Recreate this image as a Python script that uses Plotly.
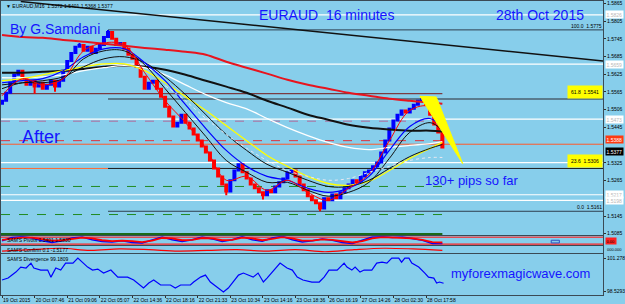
import plotly.graph_objects as go
import numpy as np

# ---------------- DATA ----------------
close = [1.5535, 1.5562, 1.5596, 1.5623, 1.5637, 1.5610, 1.5589, 1.5603, 1.5583, 1.5596,
         1.5576, 1.5589, 1.5603, 1.5583, 1.5603, 1.5637, 1.5670, 1.5697, 1.5718, 1.5724,
         1.5704, 1.5718, 1.5697, 1.5711, 1.5724, 1.5751, 1.5768, 1.5745, 1.5724, 1.5731,
         1.5711, 1.5691, 1.5677, 1.5650, 1.5616, 1.5576, 1.5596, 1.5603, 1.5576, 1.5549,
         1.5515, 1.5482, 1.5448, 1.5461, 1.5488, 1.5461, 1.5441, 1.5421, 1.5401, 1.5380,
         1.5360, 1.5333, 1.5306, 1.5279, 1.5252, 1.5228, 1.5266, 1.5299, 1.5320, 1.5293,
         1.5272, 1.5252, 1.5239, 1.5225, 1.5215, 1.5232, 1.5225, 1.5245, 1.5259, 1.5272,
         1.5293, 1.5299, 1.5279, 1.5252, 1.5232, 1.5212, 1.5198, 1.5188, 1.5170, 1.5205,
         1.5198, 1.5218, 1.5205, 1.5225, 1.5239, 1.5252, 1.5266, 1.5259, 1.5279, 1.5293,
         1.5299, 1.5313, 1.5326, 1.5360, 1.5401, 1.5441, 1.5468, 1.5488, 1.5502, 1.5495,
         1.5508, 1.5522, 1.5535, 1.5542, 1.5522, 1.5488, 1.5455, 1.5428, 1.5377]
first_open = 1.5525
extra_high = {19: 1.5731, 26: 1.5775, 103: 1.5548}
extra_low = {8: 1.5559, 13: 1.5566, 55: 1.5215, 64: 1.5201, 78: 1.5161}

ma_bars = [0, 5, 10, 15, 20, 25, 30, 35, 40, 45, 50, 55, 60, 65, 70, 75, 80, 85, 90, 95, 100, 105, 108]
ma_slow_red = [1.5758, 1.5751, 1.5748, 1.5741, 1.5735, 1.5728, 1.5721, 1.5714, 1.5708, 1.5701, 1.5691, 1.5667,
               1.5647, 1.5627, 1.5606, 1.5589, 1.5576, 1.5562, 1.5552, 1.5542, 1.5535, 1.5529, 1.5525]
ma_black_thick = [1.5630, 1.5630, 1.5633, 1.5637, 1.5643, 1.5650, 1.5654, 1.5650, 1.5640, 1.5623, 1.5603, 1.5583,
                  1.5562, 1.5535, 1.5512, 1.5488, 1.5471, 1.5454, 1.5444, 1.5438, 1.5434, 1.5434, 1.5431]
ma_white = [1.5613, 1.5613, 1.5616, 1.5623, 1.5637, 1.5647, 1.5654, 1.5647, 1.5623, 1.5589, 1.5556, 1.5529,
            1.5508, 1.5475, 1.5444, 1.5417, 1.5394, 1.5377, 1.5370, 1.5377, 1.5384, 1.5390, 1.5397]
ma_yellow = [1.5603, 1.5610, 1.5623, 1.5637, 1.5650, 1.5660, 1.5660, 1.5637, 1.5596, 1.5549, 1.5502, 1.5451,
             1.5400, 1.5350, 1.5313, 1.5279, 1.5255, 1.5249, 1.5262, 1.5299, 1.5340, 1.5374, 1.5394]
ma_blue = [1.5596, 1.5603, 1.5610, 1.5637, 1.5684, 1.5711, 1.5711, 1.5664, 1.5603, 1.5522, 1.5441, 1.5367,
           1.5313, 1.5279, 1.5266, 1.5239, 1.5225, 1.5239, 1.5279, 1.5367, 1.5448, 1.5475, 1.5441]
ma_fast_red = [1.5552, 1.5610, 1.5589, 1.5610, 1.5704, 1.5731, 1.5724, 1.5630, 1.5535, 1.5461, 1.5374, 1.5266,
               1.5279, 1.5232, 1.5266, 1.5225, 1.5198, 1.5239, 1.5286, 1.5400, 1.5502, 1.5515, 1.5441]
ma_black_1 = [1.5576, 1.5596, 1.5596, 1.5610, 1.5677, 1.5704, 1.5704, 1.5657, 1.5576, 1.5495, 1.5414, 1.5333,
              1.5293, 1.5259, 1.5259, 1.5232, 1.5212, 1.5225, 1.5259, 1.5340, 1.5428, 1.5461, 1.5434]
ma_black_2 = [1.5589, 1.5596, 1.5603, 1.5616, 1.5650, 1.5677, 1.5684, 1.5664, 1.5616, 1.5556, 1.5488, 1.5421,
              1.5367, 1.5320, 1.5293, 1.5266, 1.5245, 1.5245, 1.5266, 1.5306, 1.5346, 1.5374, 1.5387]
dot_bars = [40, 45, 50, 55, 60, 65, 70, 75, 80, 85, 90, 95, 100, 105, 108]
ma_dotted = [1.5586, 1.5535, 1.5475, 1.5421, 1.5374, 1.5333, 1.5299, 1.5279, 1.5266, 1.5272, 1.5293, 1.5313,
             1.5333, 1.5343, 1.5343]

trend_bars = [4.6, 147.4]
trend_prices = [1.5871, 1.5670]
wedge_bars = [102.5, 106.5, 113.0, 102.5]
wedge_prices = [1.5550, 1.5548, 1.5322, 1.5550]

# horizontal levels: price, start bar (None = chart edge), end bar (None = chart edge)
level_prices = [1.5826, 1.5659, 1.5473, 1.5388, 1.5326, 1.5217, 1.5198,
                1.5559, 1.5466, 1.5400, 1.5245, 1.5150, 1.5083, 1.5306,
                1.5775, 1.5541, 1.5306, 1.5161]
level_start = [None, None, None, None, None, None, None,
               None, None, None, None, None, None, None,
               26, 26, 26, 26]
level_end = [None, None, None, None, None, None, None,
             108, 108, 108, 108, 108, 108, 26,
             None, None, None, None]
level_styles = [('white', 'solid', 1.2), ('white', 'solid', 1.2), ('white', 'solid', 1.2), ('#ff5a2a', 'solid', 1),
                ('white', 'solid', 1.2), ('white', 'solid', 1.2), ('white', 'solid', 1.2),
                ('#7a1a1a', 'solid', 1), ('#b06a9a', 'dash', 1), ('#e0303a', 'dash', 1), ('#228b22', 'dash', 1),
                ('#228b22', 'dash', 1), ('#1a6a1a', 'solid', 2.5), ('#ff6a30', 'solid', 1),
                ('#2f3f4f', 'solid', 1), ('#4a6070', 'solid', 1.5), ('#1a1a1a', 'solid', 1), ('#2f3f4f', 'solid', 1)]

price_ticks = [1.5085, 1.5145, 1.5265, 1.5325, 1.5445, 1.5505, 1.5565, 1.5625, 1.5685, 1.5745, 1.5805, 1.5865]
price_tick_text = ['1.5085', '1.5145', '1.5265', '1.5325', '1.5445', '1.5506', '1.5565', '1.5625', '1.5685',
                   '1.5745', '1.5805', '1.5865']
box_prices = [1.5826, 1.5659, 1.5473, 1.5217, 1.5198, 1.5388, 1.5377]

fib_prices = [1.5775, 1.5541, 1.5306, 1.5161]
fib_labels = ['100.0  1.5775', '61.8  1.5541', '23.6  1.5306', '0.0  1.5161']

time_bars = [0, 8, 16, 24, 32, 40, 48, 56, 64, 72, 80, 88, 96, 104]
time_labels = ['19 Oct 2015', '20 Oct 07:46', '21 Oct 09:06', '22 Oct 05:07', '22 Oct 14:36', '22 Oct 18:16',
               '22 Oct 21:33', '23 Oct 10:34', '23 Oct 14:16', '23 Oct 18:36', '26 Oct 16:19', '27 Oct 14:26',
               '28 Oct 02:30', '28 Oct 17:58']

pivot_blue = [0.5, 0.85, 0.95, 0.8, 0.5, 0.3, 0.5, 0.8, 0.9, 0.6, 0.4, 0.35, 0.5, 0.3, 0.25, 0.6, 0.9, 0.6,
              0.4, 0.6, 0.9, 0.7, 0.4, 0.6, 0.95, 0.6, 0.45, 0.8, 1.0, 0.6, 0.35, 0.5, 0.7, 0.55, 0.3, 0.2,
              0.55, 0.9, 0.95, 0.85, 0.9, 0.7, 0.55, 0.2, 0.2]
pivot_red = [0.6, 0.7, 0.85, 0.85, 0.7, 0.5, 0.55, 0.7, 0.85, 0.75, 0.55, 0.45, 0.5, 0.45, 0.35, 0.5, 0.8,
             0.75, 0.55, 0.6, 0.8, 0.75, 0.55, 0.6, 0.85, 0.75, 0.55, 0.7, 0.9, 0.75, 0.5, 0.5, 0.65, 0.6,
             0.45, 0.3, 0.45, 0.75, 0.9, 0.85, 0.85, 0.75, 0.6, 0.35, 0.3]
pivot_levels = [0.89, 0.11]
confirm_red = [0.3, 0.5, 0.7, 0.4, 0.6, 0.5, 0.3, 0.4, 0.5, 0.3, 0.5, 0.2, 0.5, 0.7, 0.6, 0.4]

div_bars = [0, 1.5, 3.4, 4.6, 5.9, 7.1, 7.8, 9.5, 11.2, 12, 13.2, 14.4, 15.6, 17.4, 18.6, 19.8, 21, 22.2,
            23.5, 24.9, 26.7, 28.4, 30.8, 32.3, 34, 34.7, 36, 37.2, 38.9, 41.3, 42.5, 43.8, 46.2, 47,
            48.7, 49.9, 51.1, 52.8, 54.3, 55.5, 56.7, 58, 59.2, 60.4, 61.6, 62.8, 64.1, 65, 66.3, 68.2,
            69.9, 71.2, 72.4, 73.8, 76, 77.8, 79, 80.2, 82.2, 83.9, 84.6, 85.8, 86.6, 87.8, 88.8, 90.7,
            91.9, 93.2, 94.4, 95.6, 97.3, 98, 98.8, 99.8, 100.5, 102.2, 103.7, 104.6, 105.9, 106.6,
            107.3, 108.3]
div_vals = [99.45, 99.61, 100.11, 100.53, 100.45, 100.86, 100.45, 100.28, 100.28, 99.69, 100.45, 100.28,
            100.86, 100.86, 101.28, 100.94, 100.53, 100.28, 100.36, 100.03, 100.28, 99.69, 99.69, 99.45,
            99.03, 98.78, 99.20, 99.45, 99.03, 99.03, 98.78, 99.03, 99.03, 99.28, 99.69, 99.86, 99.28,
            98.86, 98.44, 98.78, 99.28, 99.86, 100.03, 99.86, 99.69, 100.03, 99.28, 99.61, 100.11,
            100.86, 100.45, 100.28, 99.69, 99.45, 99.28, 99.28, 99.69, 100.28, 100.28, 100.86, 100.53,
            100.28, 100.53, 100.11, 100.28, 100.28, 100.86, 100.94, 100.86, 101.28, 101.28, 100.94,
            101.28, 101.28, 100.86, 100.53, 100.03, 99.69, 99.61, 99.20, 99.28, 99.18]
div_ticks = [101.278, 98.5293]

# ---------------- FIGURE ----------------
BG = '#87CEEB'
TXT_BLUE = '#1515ff'
XR = [-0.25, 147.4]
PH = 295.0  # plot-area height in px
PW = 604.0


def py(p):  # pixel row -> paper y
    return (PH - p) / PH


def px(p):
    return p / PW


n = len(close)
bars = list(range(n))
opens = [first_open] + close[:-1]
highs = [max(o, c) for o, c in zip(opens, close)]
lows = [min(o, c) for o, c in zip(opens, close)]
for k, v in extra_high.items():
    highs[k] = v
for k, v in extra_low.items():
    lows[k] = v

fig = go.Figure()

# levels
for price, x0, x1, (col, dash, w) in zip(level_prices, level_start, level_end, level_styles):
    if x0 is None and x1 is None:
        fig.add_shape(type='line', xref='x domain', yref='y', x0=0, x1=1, y0=price, y1=price,
                      line=dict(color=col, dash=dash, width=w), layer='below')
    else:
        fig.add_shape(type='line', xref='x', yref='y', x0=XR[0] if x0 is None else x0,
                      x1=XR[1] if x1 is None else x1, y0=price, y1=price,
                      line=dict(color=col, dash=dash, width=w), layer='below')

fig.add_trace(go.Scatter(x=trend_bars, y=trend_prices, mode='lines', line=dict(color='#111111', width=1.5),
                         xaxis='x', yaxis='y', hoverinfo='skip'))

fig.add_trace(go.Candlestick(x=bars, open=opens, high=highs, low=lows, close=close,
                             increasing=dict(line=dict(color='#0000ff', width=2), fillcolor='#0000ff'),
                             decreasing=dict(line=dict(color='#ff0000', width=2), fillcolor='#ff0000'),
                             whiskerwidth=0, xaxis='x', yaxis='y'))

ma_specs = [
    (ma_slow_red, '#e8141e', 2, 'solid'),
    (ma_black_thick, '#111111', 2, 'solid'),
    (ma_white, '#ffffff', 1.3, 'solid'),
    (ma_yellow, '#ffff00', 1.3, 'solid'),
    (ma_black_2, '#111111', 1, 'solid'),
    (ma_black_1, '#111111', 1, 'solid'),
    (ma_blue, '#0000ff', 1.2, 'solid'),
    (ma_fast_red, '#ff0000', 1, 'solid'),
]
for vals, col, w, dash in ma_specs:
    fig.add_trace(go.Scatter(x=ma_bars, y=vals, mode='lines', line=dict(color=col, width=w, dash=dash, shape='spline'),
                             xaxis='x', yaxis='y', hoverinfo='skip'))
fig.add_trace(go.Scatter(x=dot_bars, y=ma_dotted, mode='lines',
                         line=dict(color='#e8e8f0', width=1, dash='dot', shape='spline'),
                         xaxis='x', yaxis='y', hoverinfo='skip'))

fig.add_trace(go.Scatter(x=wedge_bars, y=wedge_prices, mode='lines', fill='toself', fillcolor='#ffff00',
                         line=dict(color='#ffff00', width=1), xaxis='x', yaxis='y', hoverinfo='skip'))

# panel 1: pivots
osc_x = list(np.linspace(0, 108, len(pivot_blue)))
for lv in pivot_levels:
    fig.add_shape(type='line', xref='x2 domain', yref='y2', x0=0, x1=1, y0=lv, y1=lv,
                  line=dict(color='#ff2020', width=1.3), layer='below')
fig.add_trace(go.Scatter(x=osc_x, y=pivot_blue, mode='lines', line=dict(color='#0000ff', width=1.5),
                         xaxis='x2', yaxis='y2', hoverinfo='skip'))
fig.add_trace(go.Scatter(x=osc_x, y=pivot_red, mode='lines', line=dict(color='#ff0000', width=1.8),
                         xaxis='x2', yaxis='y2', hoverinfo='skip'))
fig.add_shape(type='rect', xref='x2', yref='y2', x0=134.7, x1=136.7, y0=0.25, y1=0.55,
              line=dict(color='#3050c0', width=1))

# panel 2: confirm
conf_x = list(np.linspace(0, 108, len(confirm_red)))
fig.add_trace(go.Scatter(x=conf_x, y=confirm_red, mode='lines', line=dict(color='#ff0000', width=1.2, shape='spline'),
                         xaxis='x3', yaxis='y3', hoverinfo='skip'))

# panel 3: divergence
fig.add_trace(go.Scatter(x=div_bars, y=div_vals, mode='lines', line=dict(color='#0000ff', width=1.2),
                         xaxis='x4', yaxis='y4', hoverinfo='skip'))

axis_common = dict(showgrid=False, zeroline=False, showline=True, mirror=True, linecolor='#3a4a55', linewidth=1)
xcommon = dict(axis_common, range=XR, showticklabels=False, ticks='', rangeslider=dict(visible=False))

fig.update_layout(
    width=625, height=304,
    margin=dict(l=0, r=21, t=0, b=9),
    paper_bgcolor=BG, plot_bgcolor=BG,
    showlegend=False,
    font=dict(family='Liberation Sans, Arial, sans-serif', color='#000000'),
    xaxis=dict(xcommon, anchor='y', domain=[0, 1]),
    xaxis2=dict(xcommon, anchor='y2', domain=[0, 1]),
    xaxis3=dict(xcommon, anchor='y3', domain=[0, 1]),
    xaxis4=dict(axis_common, anchor='y4', domain=[0, 1], range=XR, tickvals=time_bars, ticktext=time_labels,
                ticks='outside', ticklen=2, tickcolor='#303030', tickfont=dict(size=5, color='#000000'),
                ticklabelposition='outside right', tickangle=0),
    yaxis=dict(axis_common, anchor='x', domain=[py(235), 1.0], range=[1.50800, 1.58728], side='right',
               tickvals=price_ticks, ticktext=price_tick_text, ticks='outside', ticklen=2, tickcolor='#303030',
               tickfont=dict(size=5, color='#000000')),
    yaxis2=dict(axis_common, anchor='x2', domain=[py(245), py(236)], range=[0, 1], showticklabels=False, ticks=''),
    yaxis3=dict(axis_common, anchor='x3', domain=[py(253), py(246)], range=[0, 1], showticklabels=False, ticks=''),
    yaxis4=dict(axis_common, anchor='x4', domain=[0, py(254)], range=[98.196, 101.611], side='right',
                tickvals=div_ticks, ticktext=['101.278', '98.5293'], ticks='outside', ticklen=2,
                tickcolor='#303030', tickfont=dict(size=5, color='#000000')),
)

ann = []
# big blue texts
ann.append(dict(text='By G.Samdani', x=px(7), y=py(28), size=14))
ann.append(dict(text='EURAUD\u00a0\u00a016 minutes', x=px(257), y=py(14), size=14))
ann.append(dict(text='28th Oct 2015', x=px(495), y=py(14), size=14))
ann.append(dict(text='After', x=px(19), y=py(136), size=18))
ann.append(dict(text='130+ pips so far', x=px(423), y=py(180), size=13))
ann.append(dict(text='myforexmagicwave.com', x=px(449), y=py(273), size=13))
for a in ann:
    fig.add_annotation(text=a['text'], xref='paper', yref='paper', x=a['x'], y=a['y'], xanchor='left',
                       yanchor='middle', showarrow=False, font=dict(size=a['size'], color=TXT_BLUE))

# small header
fig.add_annotation(text='\u25bc EURAUD,M16  1.5372 1.5401 1.5368 1.5377', xref='paper', yref='paper',
                   x=px(3), y=py(5), xanchor='left', yanchor='middle', showarrow=False,
                   font=dict(size=5, color='#000000'))
# panel captions
for txt, row in [("SAM'S Pivots 1.5401 1.5830", 240), ("SAM'S Confirm 0.1 -1.5177", 249.5),
                 ("SAM'S Divergence 99.1809", 259)]:
    fig.add_annotation(text=txt, xref='paper', yref='paper', x=px(4), y=py(row), xanchor='left',
                       yanchor='middle', showarrow=False, font=dict(size=5, color='#000000'))

# fib labels
for price, lab in zip(fib_prices, fib_labels):
    boxed = lab.startswith('61.8') or lab.startswith('23.6')
    fig.add_annotation(text=lab, xref='paper', yref='y', x=1.0, y=price, xanchor='right', yanchor='bottom',
                       showarrow=False, font=dict(size=5, color='#000000'),
                       bgcolor='#ffff00' if boxed else 'rgba(0,0,0,0)', borderpad=3 if boxed else 0)

# right-side price boxes
for price in box_prices:
    anchor = 'middle'
    if abs(price - 1.5388) < 1e-6:
        bg, fc, anchor = '#ff3a10', '#ffffff', 'bottom'
    elif abs(price - 1.5377) < 1e-6:
        bg, fc, anchor = '#000000', '#ffffff', 'top'
    else:
        bg, fc = '#ffffff', '#b8b8b8'
    fig.add_annotation(text=f'{price:.4f}', xref='paper', yref='y', x=1.003, y=price, xanchor='left',
                       yanchor=anchor, showarrow=False, font=dict(size=5, color=fc), bgcolor=bg, borderpad=0.5)

fig.add_annotation(text='0.00', xref='paper', yref='y2', x=1.003, y=0.5, xanchor='left', yanchor='middle',
                   showarrow=False, font=dict(size=4, color='#000000'), bgcolor='#ff2020', borderpad=0.5)
fig.add_annotation(text='000.000', xref='paper', yref='y3', x=1.003, y=0.5, xanchor='left', yanchor='middle',
                   showarrow=False, font=dict(size=4, color='#000000'))

fig.write_html('out.html')
